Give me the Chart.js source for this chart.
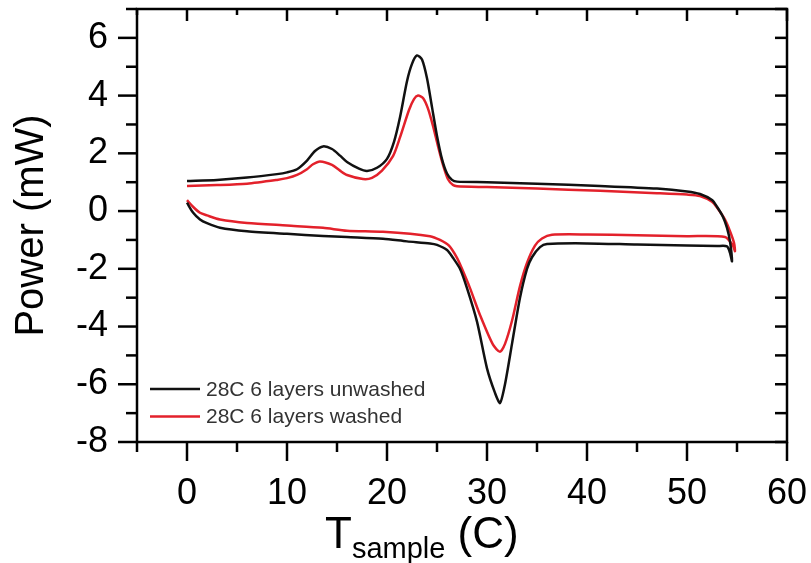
<!DOCTYPE html>
<html>
<head>
<meta charset="utf-8">
<title>DSC scan</title>
<script src="https://cdn.jsdelivr.net/npm/chart.js@4.4.1/dist/chart.umd.min.js"></script>
<style>
  html, body { margin: 0; padding: 0; background: #fff; }
  canvas { display: block; }
</style>
</head>
<body>
<canvas id="dsc" width="811" height="563"></canvas>
<script>
// heating run (0 -> 55 C) followed by the cooling run (55 -> 0 C)
const unwashedT = [0, 3, 6, 9, 10, 11, 12, 12.8, 13.6, 14.5, 15.3, 16, 17.2, 18, 19, 20, 20.7, 21.3, 22, 22.5, 23, 23.5, 24, 24.5, 25, 25.5, 26, 26.5, 27, 30, 35, 41.3, 47, 50, 51.3, 52.5, 53, 53.6, 54, 54.3, 54.5,
  54.3, 54.0, 53, 50, 45, 40, 36, 35.3, 34.5, 34, 33.3, 32.5, 31.8, 31.3, 30.8, 30, 29, 28, 27.3, 26.6, 26, 25, 24.3, 22, 19.6, 16, 13.6, 10, 6, 3.3, 2, 1.3, 0.6, 0];
const unwashedP = [1.04, 1.08, 1.16, 1.28, 1.34, 1.45, 1.75, 2.08, 2.24, 2.15, 1.92, 1.7, 1.47, 1.39, 1.5, 1.81, 2.4, 3.25, 4.5, 5.1, 5.39, 5.25, 4.6, 3.6, 2.6, 1.8, 1.3, 1.08, 1.02, 1.0, 0.95, 0.87, 0.78, 0.68, 0.59, 0.38, 0.15, -0.2, -0.58, -1.05, -1.74,
  -1.45, -1.22, -1.21, -1.19, -1.16, -1.12, -1.14, -1.25, -1.6, -2.0, -3.0, -4.6, -6.0, -6.65, -6.3, -5.45, -3.83, -2.67, -2.0, -1.62, -1.35, -1.17, -1.12, -1.05, -0.96, -0.9, -0.86, -0.79, -0.7, -0.58, -0.42, -0.29, -0.05, 0.29];

const washedT = [0, 3, 6, 9, 10, 11, 12, 12.6, 13.3, 14.5, 15.3, 16, 17.6, 18.5, 19.5, 20.6, 21.3, 22.2, 22.7, 23.1, 23.6, 24.1, 24.6, 25.1, 25.6, 26.1, 26.6, 27, 30, 35, 41.3, 47, 50, 51.3, 52.5, 53, 53.8, 54.3, 54.7, 54.8,
  54.6, 53.8, 50, 45, 40, 36.5, 35.5, 34.8, 34, 33.3, 32.5, 31.8, 31.3, 30.6, 29.3, 28.3, 27.5, 27, 26.2, 25.3, 24.3, 19.6, 16, 13.6, 10, 6, 3.3, 2, 1.3, 0.6, 0];
const washedP = [0.87, 0.9, 0.95, 1.08, 1.14, 1.25, 1.45, 1.62, 1.72, 1.6, 1.4, 1.25, 1.11, 1.15, 1.4, 1.9, 2.55, 3.5, 3.88, 4.0, 3.92, 3.55, 2.95, 2.25, 1.6, 1.1, 0.9, 0.86, 0.83, 0.78, 0.7, 0.62, 0.57, 0.52, 0.32, 0.12, -0.3, -0.7, -1.1, -1.39,
  -1.2, -0.9, -0.87, -0.84, -0.81, -0.82, -0.95, -1.2, -1.8, -2.6, -3.8, -4.6, -4.87, -4.63, -3.6, -2.67, -2.0, -1.62, -1.2, -1.0, -0.87, -0.72, -0.68, -0.58, -0.5, -0.41, -0.29, -0.15, -0.06, 0.15, 0.38];

const seriesLabels = ["28C 6 layers unwashed", "28C 6 layers washed"];
const seriesColors = ["#111111", "#e3212b"];

const xTickValues = [0, 10, 20, 30, 40, 50, 60];
const yTickValues = [-8, -6, -4, -2, 0, 2, 4, 6];

const FONT = "'Liberation Sans', Arial, sans-serif";

function toPoints(ts, ps) {
  return ts.map((t, i) => ({ x: t, y: ps[i] }));
}

// no extra room for half labels at the ends of the axes
function noEdgePadding(s) {
  s.paddingTop = 0;
  s.paddingBottom = 0;
  s.paddingLeft = 0;
  s.paddingRight = 0;
}

// box round the plot, outward ticks on bottom/left, inward on top/right,
// legend in the lower left corner and the x title with its subscript
const frame = {
  id: "frame",
  afterDraw(chart) {
    const { ctx, chartArea: a, scales: { x, y } } = chart;
    ctx.save();
    ctx.strokeStyle = "#000";
    ctx.lineWidth = 2.5;
    ctx.lineCap = "butt";
    ctx.strokeRect(a.left, a.top, a.right - a.left, a.bottom - a.top);

    const seg = (x1, y1, x2, y2) => {
      ctx.beginPath();
      ctx.moveTo(x1, y1);
      ctx.lineTo(x2, y2);
      ctx.stroke();
    };

    for (let v = x.min; v <= x.max; v += 5) {
      const px = x.getPixelForValue(v);
      const major = v % 10 === 0;
      seg(px, a.bottom, px, a.bottom + (major ? 19 : 10));
      seg(px, a.top, px, a.top + (major ? 12 : 6));
    }
    for (let v = y.min; v <= y.max; v += 1) {
      const py = y.getPixelForValue(v);
      const major = v % 2 === 0;
      seg(a.left, py, a.left - (major ? 19 : 11), py);
      seg(a.right, py, a.right - 12, py);
    }

    // legend
    ctx.font = "21px " + FONT;
    ctx.textBaseline = "middle";
    ctx.textAlign = "left";
    chart.data.datasets.forEach((ds, i) => {
      const ly = 389 + i * 27.5;
      ctx.strokeStyle = ds.borderColor;
      ctx.lineWidth = 2.5;
      seg(150, ly, 200, ly);
      ctx.fillStyle = "#333";
      ctx.fillText(ds.label, 206, ly + 1);
    });

    // x axis title: T_sample (C)
    ctx.fillStyle = "#000";
    ctx.textBaseline = "alphabetic";
    const big = "44px " + FONT;
    const small = "29px " + FONT;
    const parts = [["T", big, 0], ["sample", small, 10], [" (C)", big, 0]];
    let tx = 325;
    parts.forEach(([t, f, dy]) => {
      ctx.font = f;
      ctx.fillText(t, tx, 548 + dy);
      tx += ctx.measureText(t).width;
    });
    ctx.restore();
  }
};

new Chart(document.getElementById("dsc"), {
  type: "scatter",
  data: {
    datasets: [
      {
        label: seriesLabels[0],
        data: toPoints(unwashedT, unwashedP),
        borderColor: seriesColors[0],
        showLine: true
      },
      {
        label: seriesLabels[1],
        data: toPoints(washedT, washedP),
        borderColor: seriesColors[1],
        showLine: true
      }
    ]
  },
  options: {
    responsive: false,
    animation: false,
    layout: { padding: { top: 9, right: 24, left: 0, bottom: 0 } },
    elements: {
      point: { radius: 0, hoverRadius: 0 },
      line: { borderWidth: 2.5, tension: 0.25, fill: false }
    },
    plugins: {
      legend: { display: false },
      tooltip: { enabled: false }
    },
    scales: {
      x: {
        type: "linear",
        min: -5,
        max: 60,
        grid: { display: false, drawTicks: false },
        border: { display: false },
        afterBuildTicks: s => { s.ticks = xTickValues.map(v => ({ value: v })); },
        afterFit: s => { s.height = 563 - 442; noEdgePadding(s); },
        ticks: { color: "#000", padding: 30, maxRotation: 0, font: { family: FONT, size: 36 } }
      },
      y: {
        type: "linear",
        min: -8,
        max: 7,
        grid: { display: false, drawTicks: false },
        border: { display: false },
        afterBuildTicks: s => { s.ticks = yTickValues.map(v => ({ value: v })); },
        afterFit: s => { s.width = 137; noEdgePadding(s); },
        ticks: { color: "#000", padding: 29, font: { family: FONT, size: 36 } },
        title: {
          display: true,
          text: "Power (mW)",
          color: "#000",
          font: { family: FONT, size: 40 },
          padding: { top: 8, bottom: 0 }
        }
      }
    }
  },
  plugins: [frame]
});
</script>
</body>
</html>
